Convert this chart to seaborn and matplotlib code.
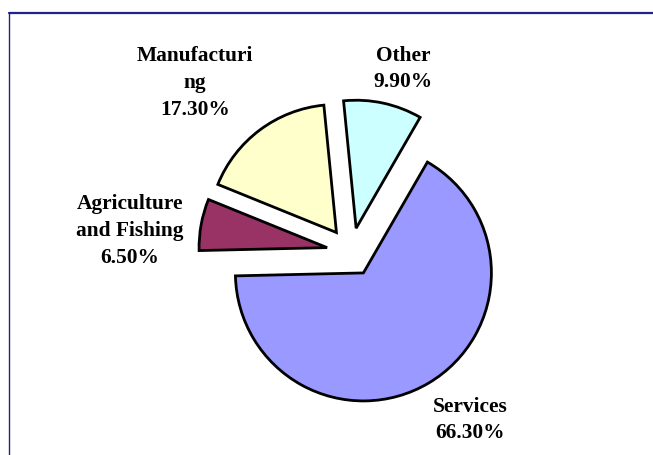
import matplotlib
matplotlib.use("Agg")
import matplotlib.pyplot as plt
from matplotlib.lines import Line2D
import seaborn as sns

# Employment share by sector (percent)
sectors = ["Services", "Agriculture\nand Fishing", "Manufacturi\nng", "Other"]
shares = [66.3, 6.5, 17.3, 9.9]
colors = ["#9999FF", "#993366", "#FFFFCC", "#CCFFFF"]

# Label anchor points in pixels (x from left, y from top)
label_px = [(470, 420), (130, 231), (195, 83), (403, 69)]

sns.set_theme(style="white")
plt.rcParams["font.family"] = ["Liberation Serif", "DejaVu Serif"]

W, H, DPI = 653, 455, 100
fig = plt.figure(figsize=(W / DPI, H / DPI), dpi=DPI)
fig.patch.set_facecolor("white")
ax = fig.add_axes([0, 0, 1, 1])

# pie centre and radius in pixels
cx, cy, R = 351, 252, 128

ax.pie(
    shares,
    colors=colors,
    startangle=60,
    counterclock=False,
    explode=[0.19] * len(shares),
    radius=1.0,
    wedgeprops=dict(edgecolor="black", linewidth=2.0),
)
ax.set_xlim(-cx / R, (W - cx) / R)
ax.set_ylim(-(H - cy) / R, cy / R)
ax.set_aspect("equal")
ax.axis("off")

for name, val, (px, py) in zip(sectors, shares, label_px):
    ax.text(
        (px - cx) / R, (cy - py) / R,
        f"{name}\n{val:.2f}%",
        ha="center", va="center",
        fontsize=15.4, fontweight="bold", color="black",
        linespacing=1.45,
    )

# chart-area frame (top and left edges)
fig.add_artist(Line2D([9 / W, 1.0], [1 - 13 / H, 1 - 13 / H],
                      transform=fig.transFigure, color="#22228a", lw=1.6))
fig.add_artist(Line2D([9 / W, 9 / W], [0.0, 1 - 13 / H],
                      transform=fig.transFigure, color="#22228a", lw=1.0))

fig.savefig("out.png", dpi=DPI)
